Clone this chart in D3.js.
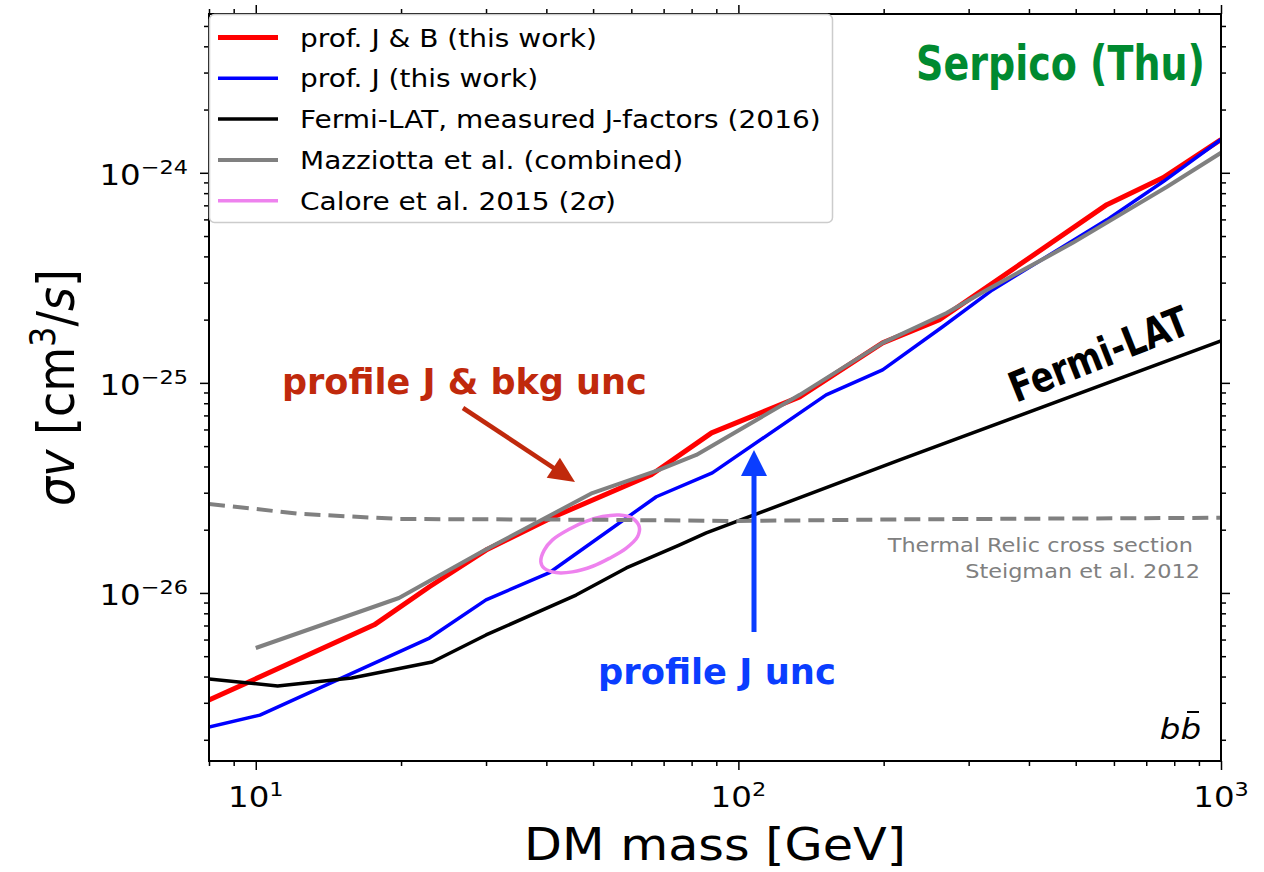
<!DOCTYPE html>
<html>
<head>
<meta charset="utf-8">
<script src="https://cdnjs.cloudflare.com/ajax/libs/d3/7.8.5/d3.min.js"></script>
<style>
body { margin: 0; background: white; overflow: hidden; }
text { font-family: "DejaVu Sans", sans-serif; }
</style>
</head>
<body>
<script>
//Data (DM mass in GeV, sigma v in cm^3/s)
//prof. J & B (this work)
var massJB = [8, 17.6, 22.9, 30, 41, 66, 88, 134, 199, 261, 580, 758, 1000];
var svJB = [3.09e-27, 7.05e-27, 1.07e-26, 1.60e-26, 2.28e-26, 3.65e-26, 5.78e-26, 8.58e-26, 1.55e-25, 2.0e-25, 7.05e-25, 9.47e-25, 1.44e-24];

//prof. J (this work)
var massJ = [8, 10.2, 22.9, 30, 40.5, 67.6, 88.3, 152, 199, 265, 336, 580, 758, 1000];
var svJ = [2.30e-27, 2.62e-27, 6.1e-27, 9.27e-27, 1.245e-26, 2.87e-26, 3.73e-26, 8.77e-26, 1.153e-25, 1.85e-25, 2.77e-25, 5.97e-25, 9.06e-25, 1.44e-24];

//Fermi-LAT, measured J-factors (2016)
var massFermi = [8, 11.1, 15.8, 23.2, 30, 46.1, 58.6, 75.4, 85.8, 216, 1000];
var svFermi = [3.89e-27, 3.61e-27, 3.94e-27, 4.69e-27, 6.31e-27, 9.77e-27, 1.315e-26, 1.69e-26, 1.93e-26, 4.3e-26, 1.585e-25];

//Mazziotta et al. (combined)
var massMaz = [10, 19.8, 29.4, 49.8, 68.5, 81.8, 134, 199, 270, 327, 493, 773, 1000];
var svMaz = [5.47e-27, 9.46e-27, 1.57e-26, 2.99e-26, 3.85e-26, 4.54e-26, 8.77e-26, 1.55e-25, 2.15e-25, 2.77e-25, 4.64e-25, 8.58e-25, 1.245e-24];

//Thermal relic cross section (Steigman et al. 2012)
var massRelic = [8, 10, 12.3, 19.8, 51.5, 100, 216, 1000];
var svRelic = [2.65e-26, 2.51e-26, 2.38e-26, 2.25e-26, 2.23e-26, 2.20e-26, 2.24e-26, 2.28e-26];

//Calore et al. 2015 (2 sigma) contour
var massCalore = [38.96, 39.6, 41.2, 44.6, 48.3, 52.3, 56.6, 60.3, 62.3, 61.8, 58.5, 54.0, 49.9, 45.3, 41.9, 39.6];
var svCalore = [1.41e-26, 1.60e-26, 1.79e-26, 2.01e-26, 2.19e-26, 2.31e-26, 2.35e-26, 2.27e-26, 2.07e-26, 1.85e-26, 1.63e-26, 1.46e-26, 1.34e-26, 1.26e-26, 1.25e-26, 1.31e-26];

//Tick labels (powers of ten)
var xTickExps = [1, 2, 3];
var yTickExps = [-24, -25, -26];

var legendLabels = ["prof. J & B (this work)", "prof. J (this work)", "Fermi-LAT, measured J-factors (2016)", "Mazziotta et al. (combined)", "Calore et al. 2015 (2"];

//Parameters
var w = 1264;
var h = 872;
var plotLeft = 209, plotRight = 1221, plotTop = 14, plotBottom = 761;
var stretch = 1.12; //the slide picture is a bit wider than tall

var red = "#ff0000";
var blue = "#0000ff";
var grey = "#808080";
var violet = "#ee82ee";
var annRed = "#c0290c";
var annBlue = "#0a3dff";
var annGreen = "#008a30";

var svg = d3.select("body").append("svg")
    .attr("width", w)
    .attr("height", h);

//Scales
var x = d3.scaleLog().domain([8, 1000]).range([plotLeft, plotRight]);
var y = d3.scaleLog().domain([1.585e-27, 5.7e-24]).range([plotBottom, plotTop]);

var xMajor = xTickExps.map(function (e) { return Math.pow(10, e); });
var yMajor = yTickExps.map(function (e) { return Math.pow(10, e); });
var xMinor = x.ticks().filter(function (v) { return xMajor.indexOf(v) < 0; });
var yMinor = y.ticks().filter(function (v) {
    return yMajor.every(function (m) { return Math.abs(v / m - 1) > 1e-6; });
});

//Text placed at (tx, ty), widened like the picture
function stext(tx, ty, size, anchor) {
    return svg.append("text")
        .attr("transform", "translate(" + tx + "," + ty + ") scale(" + stretch + ",1)")
        .attr("text-anchor", anchor || "start")
        .attr("font-size", size);
}

//Text squeezed or widened to a given width
function fitText(sel, tx, ty, width, rot) {
    var len = sel.node().getComputedTextLength();
    sel.attr("transform", "translate(" + tx + "," + ty + ")" + (rot ? " rotate(" + rot + ")" : "") +
        " scale(" + (width / len) + ",1)");
    return sel;
}

//Clip for the curves
svg.append("clipPath").attr("id", "plotClip")
    .append("rect")
    .attr("x", plotLeft).attr("y", plotTop)
    .attr("width", plotRight - plotLeft).attr("height", plotBottom - plotTop);

var plot = svg.append("g").attr("clip-path", "url(#plotClip)");

var line = d3.line()
    .x(function (d) { return x(d[0]); })
    .y(function (d) { return y(d[1]); });

function drawCurve(mass, sv, color, width, dash) {
    plot.append("path")
        .attr("d", line(d3.zip(mass, sv)))
        .attr("fill", "none")
        .attr("stroke", color)
        .attr("stroke-width", width)
        .attr("stroke-linejoin", "round")
        .attr("stroke-dasharray", dash || null);
}

drawCurve(massJB, svJB, red, 5);
drawCurve(massJ, svJ, blue, 3.5);
drawCurve(massFermi, svFermi, "black", 3.5);
drawCurve(massMaz, svMaz, grey, 4);

//Calore ellipse
plot.append("path")
    .attr("d", d3.line().curve(d3.curveCatmullRomClosed)
        .x(function (d) { return x(d[0]); })
        .y(function (d) { return y(d[1]); })(d3.zip(massCalore, svCalore)))
    .attr("fill", "none")
    .attr("stroke", violet)
    .attr("stroke-width", 3.5);

drawCurve(massRelic, svRelic, grey, 4, "16,8");

//Axes ticks on all four sides
function ticks(axisFn, transform, values, size) {
    var g = svg.append("g")
        .attr("transform", transform)
        .call(axisFn.tickValues(values).tickSize(size).tickSizeOuter(0).tickFormat(""));
    g.select(".domain").remove();
    g.selectAll("line").attr("stroke", "black").attr("stroke-width", 1.5);
}
ticks(d3.axisBottom(x), "translate(0," + plotBottom + ")", xMajor, 9);
ticks(d3.axisBottom(x), "translate(0," + plotBottom + ")", xMinor, 5);
ticks(d3.axisTop(x), "translate(0," + plotTop + ")", xMajor, 9);
ticks(d3.axisTop(x), "translate(0," + plotTop + ")", xMinor, 5);
ticks(d3.axisLeft(y), "translate(" + plotLeft + ",0)", yMajor, 9);
ticks(d3.axisLeft(y), "translate(" + plotLeft + ",0)", yMinor, 5);
ticks(d3.axisRight(y), "translate(" + plotRight + ",0)", yMajor, 9);
ticks(d3.axisRight(y), "translate(" + plotRight + ",0)", yMinor, 5);

//Spines
svg.append("rect")
    .attr("x", plotLeft).attr("y", plotTop)
    .attr("width", plotRight - plotLeft).attr("height", plotBottom - plotTop)
    .attr("fill", "none")
    .attr("stroke", "black")
    .attr("stroke-width", 2);

//Tick labels with superscripts
function powLabel(sel, exp) {
    sel.append("tspan").text("10");
    sel.append("tspan").attr("dy", -11).attr("font-size", 20)
        .text(exp < 0 ? "\u2212" + (-exp) : exp);
}
xTickExps.forEach(function (e) {
    powLabel(stext(x(Math.pow(10, e)), 807, 29, "middle"), e);
});
yTickExps.forEach(function (e) {
    powLabel(stext(188, y(Math.pow(10, e)) + 12, 29, "end"), e);
});

//Axis labels
stext((plotLeft + plotRight) / 2, 860, 44, "middle").text("DM mass [GeV]");

var yl = svg.append("text")
    .attr("transform", "translate(74," + (plotTop + plotBottom) / 2 + ") scale(" + stretch + ",1) rotate(-90)")
    .attr("text-anchor", "middle")
    .attr("font-size", 46);
yl.append("tspan").attr("font-style", "italic").text("\u03c3v");
yl.append("tspan").text(" [cm");
yl.append("tspan").attr("dy", -17).attr("font-size", 32).text("3");
yl.append("tspan").attr("dy", 17).text("/");
yl.append("tspan").attr("font-style", "italic").text("s");
yl.append("tspan").text("]");

//Thermal relic note
stext(1193, 552, 20, "end").attr("fill", grey).text("Thermal Relic cross section");
stext(1200, 578, 20, "end").attr("fill", grey).text("Steigman et al. 2012");

//Channel label b bbar
stext(1201, 739, 29, "end").attr("font-style", "italic").text("bb");
svg.append("line")
    .attr("x1", 1187).attr("x2", 1199)
    .attr("y1", 712).attr("y2", 712)
    .attr("stroke", "black").attr("stroke-width", 2);

//Legend
var legendColors = [red, blue, "black", grey, violet];
var legendWidths = [5, 3.5, 3.5, 4, 3.5];
svg.append("rect")
    .attr("x", plotLeft + 0.5).attr("y", plotTop + 0.5)
    .attr("width", 623).attr("height", 208)
    .attr("rx", 5)
    .attr("fill", "white").attr("fill-opacity", 0.85)
    .attr("stroke", "#cccccc").attr("stroke-width", 1.5);
legendLabels.forEach(function (label, i) {
    var ly = 37.5 + i * 40.8;
    svg.append("line")
        .attr("x1", 218).attr("x2", 278)
        .attr("y1", ly).attr("y2", ly)
        .attr("stroke", legendColors[i])
        .attr("stroke-width", legendWidths[i]);
    var t = stext(300, ly + 9, 25).text(label);
    if (i === 4) {
        t.append("tspan").attr("font-style", "italic").text("\u03c3");
        t.append("tspan").text(")");
    }
});

//Slide annotations
function slideText(size, color, str) {
    return svg.append("text")
        .attr("font-family", "Lato, sans-serif")
        .attr("font-weight", "bold")
        .attr("font-size", size)
        .attr("fill", color)
        .text(str);
}
fitText(slideText(48, annGreen, "Serpico (Thu)"), 916, 80, 289);
fitText(slideText(35, annRed, "profile J & bkg unc"), 282, 394, 365);
fitText(slideText(35, annBlue, "profile J unc"), 598, 684, 238);
fitText(slideText(42, "black", "Fermi-LAT"), 1016, 403, 190, -21.7);

function arrow(x1, y1, x2, y2, color, width, headLen, headHalf) {
    var dx = x2 - x1, dy = y2 - y1;
    var len = Math.sqrt(dx * dx + dy * dy);
    var ux = dx / len, uy = dy / len;
    var bx = x2 - ux * headLen, by = y2 - uy * headLen;
    svg.append("line")
        .attr("x1", x1).attr("y1", y1)
        .attr("x2", bx + ux * 2).attr("y2", by + uy * 2)
        .attr("stroke", color)
        .attr("stroke-width", width);
    svg.append("polygon")
        .attr("points", [[x2, y2], [bx - uy * headHalf, by + ux * headHalf], [bx + uy * headHalf, by - ux * headHalf]].join(" "))
        .attr("fill", color);
}
arrow(463, 408, 575, 482, annRed, 4.5, 26, 12);
arrow(754, 632, 754, 450, annBlue, 5, 26, 13);
</script>
</body>
</html>
